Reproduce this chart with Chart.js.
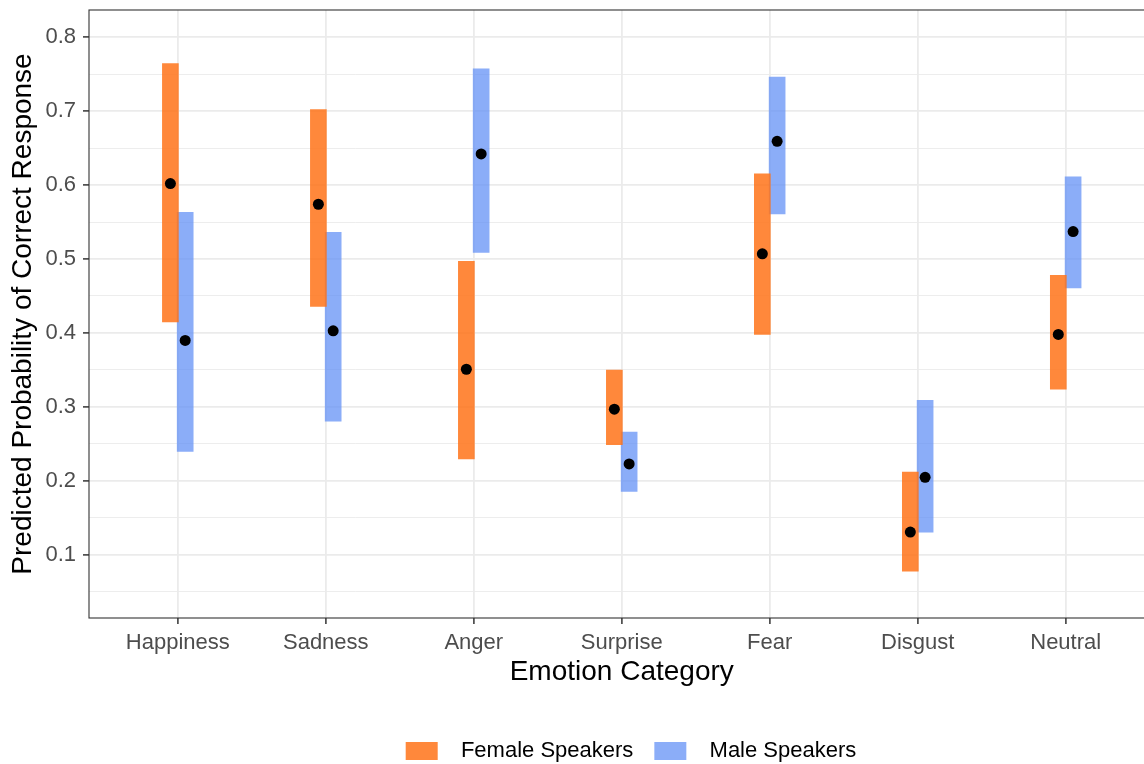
<!DOCTYPE html>
<html>
<head>
<meta charset="utf-8">
<title>Predicted probability of correct response</title>
<script src="https://cdn.jsdelivr.net/npm/chart.js@4.4.1/dist/chart.umd.min.js"></script>
<style>
  html, body { margin: 0; padding: 0; background: #fff; overflow: hidden; }
  #wrap { width: 1160px; height: 772px; }
</style>
</head>
<body>
<div id="wrap"><canvas id="emotionChart" width="1160" height="772"></canvas></div>
<script>
const categories = ['Happiness', 'Sadness', 'Anger', 'Surprise', 'Fear', 'Disgust', 'Neutral'];

const femaleEst  = [0.602, 0.574, 0.351, 0.297, 0.507, 0.131, 0.398];
const femaleLow  = [0.415, 0.436, 0.230, 0.249, 0.398, 0.078, 0.324];
const femaleHigh = [0.764, 0.702, 0.497, 0.350, 0.615, 0.212, 0.478];

const maleEst  = [0.390, 0.403, 0.642, 0.223, 0.659, 0.205, 0.537];
const maleLow  = [0.240, 0.281, 0.509, 0.186, 0.561, 0.131, 0.461];
const maleHigh = [0.563, 0.536, 0.757, 0.266, 0.746, 0.309, 0.611];

const yTicks = [0.05, 0.1, 0.15, 0.2, 0.25, 0.3, 0.35, 0.4, 0.45, 0.5, 0.55, 0.6, 0.65, 0.7, 0.75, 0.8];

const dodge = 0.05;
const FONT = "'Liberation Sans', Arial, sans-serif";
const isMajor = v => Math.abs(v * 10 - Math.round(v * 10)) < 1e-6;

const ranges = (lo, hi, off) => categories.map((c, i) => ({ x: i + off, y: [lo[i], hi[i]] }));
const points = (est, off) => categories.map((c, i) => ({ x: i + off, y: est[i] }));

// panel border drawn over the data, like theme_bw
const panelBorder = {
  id: 'panelBorder',
  afterDatasetsDraw(chart) {
    const { ctx, chartArea: a } = chart;
    ctx.save();
    ctx.strokeStyle = '#333333';
    ctx.lineWidth = 1.1;
    ctx.strokeRect(a.left, a.top, a.right - a.left, a.bottom - a.top);
    ctx.restore();
  }
};

// legend sits a little right of the canvas centre
const legendShift = {
  id: 'legendShift',
  afterLayout(chart) {
    const lg = chart.legend;
    const shift = 631 - (lg.left + lg.right) / 2;
    lg.left += shift;
    lg.right += shift;
  }
};

const ctx = document.getElementById('emotionChart').getContext('2d');

new Chart(ctx, {
  type: 'bar',
  data: {
    datasets: [
      { label: 'Female Speakers', data: ranges(femaleLow, femaleHigh, -dodge),
        backgroundColor: 'rgba(255,115,25,0.85)', borderWidth: 0, barThickness: 16, grouped: false, order: 2 },
      { label: 'Male Speakers', data: ranges(maleLow, maleHigh, dodge),
        backgroundColor: 'rgba(100,145,245,0.75)', borderWidth: 0, barThickness: 16, grouped: false, order: 2 },
      { type: 'scatter', label: 'female estimate', data: points(femaleEst, -dodge),
        backgroundColor: '#000', borderWidth: 0, pointRadius: 5.5, order: 0 },
      { type: 'scatter', label: 'male estimate', data: points(maleEst, dodge),
        backgroundColor: '#000', borderWidth: 0, pointRadius: 5.5, order: 0 }
    ]
  },
  options: {
    responsive: false,
    animation: false,
    events: [],
    layout: { padding: { top: 10, right: 5.4, bottom: 0, left: 0 } },
    scales: {
      x: {
        type: 'linear',
        offset: false,
        min: -0.6,
        max: 6.6,
        afterBuildTicks: s => { s.ticks = categories.map((c, i) => ({ value: i })); },
        afterFit: s => { s.height = 101; s.paddingLeft = 0; s.paddingRight = 0; },
        ticks: {
          callback: v => categories[Math.round(v)],
          autoSkip: false, maxRotation: 0, padding: 6,
          color: '#4d4d4d', font: { family: FONT, size: 22 }
        },
        grid: { offset: false, color: '#ebebeb', lineWidth: 1.8, tickLength: 6, tickWidth: 1.5, tickColor: '#333333' },
        border: { display: false },
        title: {
          display: true, text: 'Emotion Category', color: '#000',
          font: { family: FONT, size: 28 }, padding: { top: 0, bottom: 30 }
        }
      },
      y: {
        min: 0.01486,
        max: 0.83649,
        afterBuildTicks: s => { s.ticks = yTicks.map(v => ({ value: v })); },
        afterFit: s => { s.width = 89; s.paddingTop = 0; s.paddingBottom = 0; },
        ticks: {
          callback: v => isMajor(v) ? v.toFixed(1) : '',
          autoSkip: false, padding: 7,
          color: '#4d4d4d', font: { family: FONT, size: 22 }
        },
        grid: {
          color: '#ebebeb',
          lineWidth: c => (c.tick && isMajor(c.tick.value)) ? 1.8 : 0.9,
          tickLength: 6, tickWidth: 1.5,
          tickColor: c => (c.tick && isMajor(c.tick.value)) ? '#333333' : 'rgba(0,0,0,0)'
        },
        border: { display: false },
        title: {
          display: true, text: 'Predicted Probability of Correct Response', color: '#000',
          font: { family: FONT, size: 28 }, padding: { top: 6, bottom: 0 }
        }
      }
    },
    plugins: {
      tooltip: { enabled: false },
      legend: {
        position: 'bottom',
        labels: {
          boxWidth: 32, boxHeight: 18, padding: 21,
          color: '#000', font: { family: FONT, size: 22 },
          generateLabels: chart => chart.data.datasets.slice(0, 2).map((ds, i) => ({
            text: '  ' + ds.label,
            fillStyle: ds.backgroundColor,
            strokeStyle: ds.backgroundColor,
            lineWidth: 0,
            datasetIndex: i,
            hidden: false
          }))
        }
      }
    }
  },
  plugins: [panelBorder, legendShift]
});
</script>
</body>
</html>
